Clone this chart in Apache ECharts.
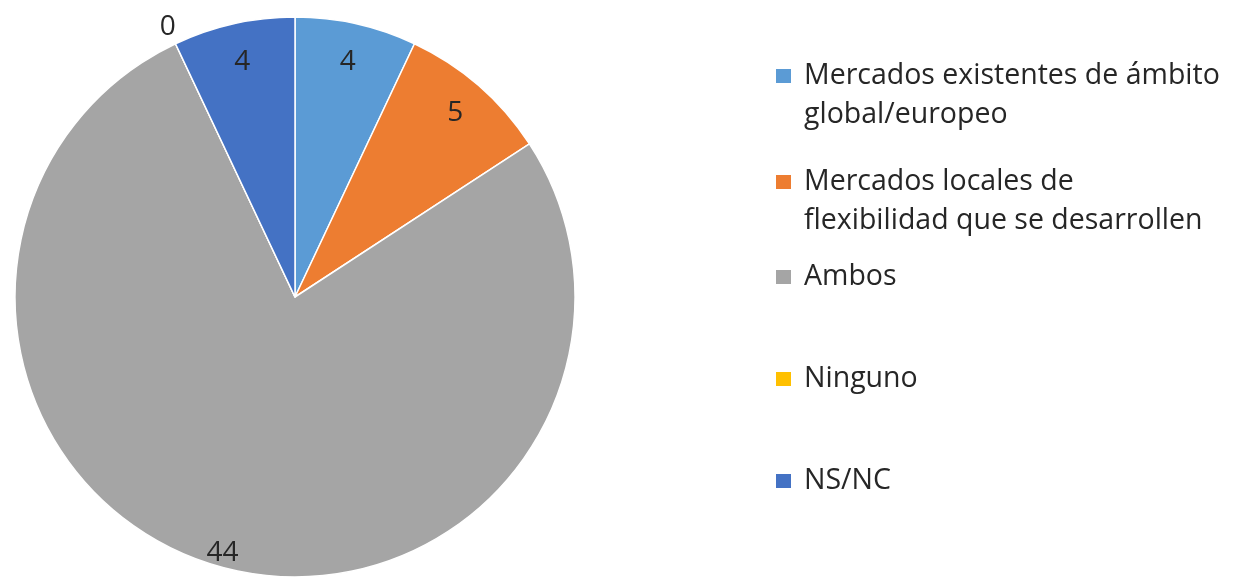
<!DOCTYPE html>
<html>
<head>
<meta charset="utf-8">
<script src="https://cdn.jsdelivr.net/npm/echarts@6/dist/echarts.min.js"></script>
<style>
html,body{margin:0;padding:0;background:#fff;}
#chart{width:1248px;height:577px;}
</style>
</head>
<body>
<div id="chart"></div>
<script>
// ---- data ----
const categories = [
  'Mercados existentes de ámbito global/europeo',
  'Mercados locales de flexibilidad que se desarrollen',
  'Ambos',
  'Ninguno',
  'NS/NC'
];
const values = [4, 5, 44, 0, 4];
const legendLabels = [
  '\nMercados existentes de ámbito\nglobal/europeo',
  '\nMercados locales de\nflexibilidad que se desarrollen',
  'Ambos',
  'Ninguno',
  'NS/NC'
];

// ---- styles ----
const colors = ['#5B9BD5', '#ED7D31', '#A5A5A5', '#FFC000', '#4472C4'];
const CX = 295, CY = 297, R = 280;
const labelRadius = [241, 244, 266, 298, 241];
const legendIconY = [76, 182, 277, 379, 481];
const FONT = '"Open Sans", "Noto Sans", sans-serif';
const LH = 39;

const chart = echarts.init(document.getElementById('chart'));

const legends = categories.map((name, i) => {
  const nLines = legendLabels[i].split('\n').length;
  return {
    data: [name],
    orient: 'vertical',
    left: 774,
    top: legendIconY[i] - (nLines * LH) / 2,
    padding: 0,
    itemWidth: 17,
    itemHeight: 16,
    icon: 'rect',
    selectedMode: false,
    formatter: () => legendLabels[i],
    textStyle: {
      fontFamily: FONT,
      fontSize: 28.5,
      color: '#262626',
      lineHeight: LH,
      padding: [0, 0, 0, 7]
    }
  };
});

chart.setOption({
  animation: false,
  color: colors,
  legend: legends,
  series: [{
    type: 'pie',
    center: [CX, CY],
    radius: R,
    startAngle: 90,
    clockwise: true,
    avoidLabelOverlap: false,
    itemStyle: { borderColor: '#fff', borderWidth: 1.5 },
    label: {
      show: true,
      position: 'inside',
      formatter: '{c}',
      fontFamily: FONT,
      fontSize: 28,
      color: '#262626'
    },
    labelLine: { show: false },
    labelLayout: function (p) {
      const lx = p.labelRect.x + p.labelRect.width / 2;
      const ly = p.labelRect.y + p.labelRect.height / 2;
      const dx = lx - CX, dy = ly - CY;
      const len = Math.sqrt(dx * dx + dy * dy) || 1;
      const r = labelRadius[p.dataIndex];
      return { x: CX + dx / len * r, y: CY + dy / len * r, align: 'center', verticalAlign: 'middle' };
    },
    data: categories.map((name, i) => ({ name: name, value: values[i] }))
  }]
});
</script>
</body>
</html>
